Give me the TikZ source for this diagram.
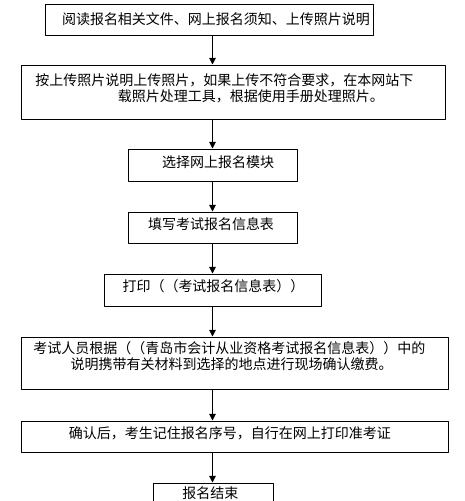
\documentclass[tikz,border=0pt]{standalone}
\usepackage{fontspec}
\setmainfont{Noto Sans CJK SC}
\usetikzlibrary{arrows.meta}
\tikzset{
  box/.style={draw, line width=0.75pt, inner sep=0pt},
  txt/.style={inner sep=0pt, align=left, font=\fontsize{10.5}{12}\selectfont},
}
\begin{document}
\begin{tikzpicture}[x=0.75pt, y=-0.75pt, line join=round, >={Triangle[length=5pt,width=5pt]}]
  \useasboundingbox (0,0) rectangle (465,501);
  \clip (0,0) rectangle (465,501);
  \coordinate (ax) at (212.5,0);
  % boxes: name/centre x/centre y/width/height
  \foreach \n/\cx/\cy/\w/\h in {1/209/19.5/328/31, 2/233/92/424/54, 3/212.5/165/169/32, 4/212.5/227.5/169/31,
      5/212.5/290/217/32, 6/234.5/363/427/52, 7/234.5/436.5/427/31, 8/213/498.5/120/31}
    \node[box, minimum width=\w*0.75pt, minimum height=\h*0.75pt] (b\n) at (\cx,\cy) {};
  % texts
  \node[txt] (t1) at (216,19) {阅读报名相关文件、网上报名须知、上传照片说明};
  \node[txt, anchor=west] (t2) at (35,88.5) {按上传照片说明上传照片，如果上传不符合要求，在本网站下\\\hspace*{62pt}载照片处理工具，根据使用手册处理照片。};
  \node[txt] (t3) at (218,162) {选择网上报名模块};
  \node[txt] (t4) at (211,224.5) {填写考试报名信息表};
  \node[txt] (t5) at (213.5,286) {打印（（考试报名信息表））};
  \node[txt, anchor=west] (t6) at (33,356.5) {考试人员根据（（青岛市会计从业资格考试报名信息表））中的\\\hspace*{28pt}说明携带有关材料到选择的地点进行现场确认缴费。};
  \node[txt] (t7) at (230,433) {确认后，考生记住报名序号，自行在网上打印准考证};
  \node[txt] (t8) at (210.5,493) {报名结束};
  % arrows
  \foreach \a/\b in {1/2,2/3,3/4,4/5,5/6,6/7,7/8}
    \draw[->, line width=0.75pt] (b\a.south -| ax) -- (b\b.north -| ax);
\end{tikzpicture}
\end{document}
